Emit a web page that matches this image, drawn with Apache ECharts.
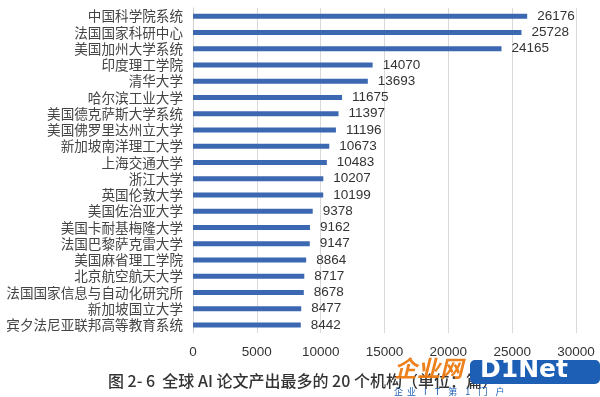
<!DOCTYPE html>
<html>
<head>
<meta charset="utf-8">
<script src="https://cdn.jsdelivr.net/npm/echarts@6/dist/echarts.min.js"></script>
<style>
html,body{margin:0;padding:0;background:#fff;}
#chart{width:600px;height:397px;}
</style>
</head>
<body>
<div id="chart"></div>
<script type="text/javascript">
// 机构名称（从上到下）
var institutions = ['中国科学院系统','法国国家科研中心','美国加州大学系统','印度理工学院','清华大学',
	'哈尔滨工业大学','美国德克萨斯大学系统','美国佛罗里达州立大学','新加坡南洋理工大学','上海交通大学',
	'浙江大学','英国伦敦大学','美国佐治亚大学','美国卡耐基梅隆大学','法国巴黎萨克雷大学',
	'美国麻省理工学院','北京航空航天大学','法国国家信息与自动化研究所','新加坡国立大学','宾夕法尼亚联邦高等教育系统'];
// 论文数量
var paperCounts = [26176,25728,24165,14070,13693,11675,11397,11196,10673,10483,
	10207,10199,9378,9162,9147,8864,8717,8678,8477,8442];
var xTicks = [0,5000,10000,15000,20000,25000,30000];

var font = '"Noto Sans CJK SC","Noto Sans",sans-serif';
var numFont = '"Liberation Sans","DejaVu Sans",sans-serif';
var myChart = echarts.init(document.getElementById('chart'));
var option = {
	animation : false,
	grid : { left : 193, right : 24, top : 8, bottom : 64 },
	xAxis : {
		type : 'value',
		min : xTicks[0],
		max : xTicks[xTicks.length-1],
		interval : xTicks[1] - xTicks[0],
		axisLine : { show : false },
		axisTick : { show : false },
		axisLabel : { color : '#333', fontSize : 13.5, fontFamily : numFont, margin : 12,
			formatter : function(v){ return String(v); } },
		splitLine : { lineStyle : { color : '#d9d9d9', width : 1 } }
	},
	yAxis : {
		type : 'category',
		inverse : true,
		data : institutions,
		axisLine : { show : true, lineStyle : { color : '#d0d0d0' } },
		axisTick : { show : false },
		axisLabel : { color : '#444', fontSize : 13.6, fontFamily : font, margin : 10, interval : 0 }
	},
	series : [{
		type : 'bar',
		data : paperCounts,
		barWidth : 5,
		itemStyle : { color : '#3c67b1' },
		label : {
			show : true,
			position : 'right',
			distance : 10,
			color : '#333',
			fontSize : 13.5,
			fontFamily : numFont
		}
	}],
	graphic : [
		{ type : 'text', left : 108, top : 373,
		  style : { text : '图 2- 6  全球 AI 论文产出最多的 20 个机构（单位：篇）', fill : '#333',
		  font : '500 16px ' + font } },
		{ type : 'text', left : 394, top : 357,
		  style : { text : '企业网', fill : '#ec7a12', font : 'italic bold 23px ' + font, opacity : 0.95 } },
		{ type : 'rect', left : 470, top : 360, shape : { width : 130, height : 24, r : 5 },
		  style : { fill : '#1c5fb5' } },
		{ type : 'text', left : 480, top : 358,
		  style : { text : 'D1Net', fill : '#fff', font : 'bold 25px "DejaVu Sans",sans-serif' } },
		{ type : 'text', left : 394, top : 387,
		  style : { text : '企  业    I    T    第    1    门    户', fill : '#1c5fb5', font : '9px ' + font } }
	]
};
myChart.setOption(option);
</script>
</body>
</html>
